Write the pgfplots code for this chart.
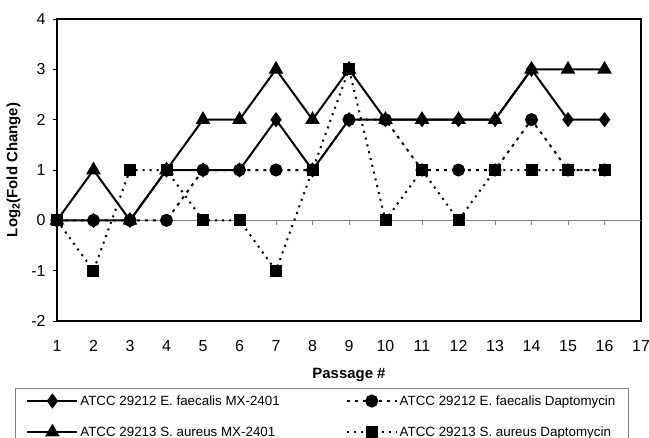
\documentclass[border=0pt]{standalone}
\usepackage{pgfplots}
\pgfplotsset{compat=1.18}
\usepackage{fontspec}
\setmainfont{Liberation Sans}
\begin{document}
\begin{tikzpicture}[x=1bp,y=1bp]
\begin{axis}[
  scale only axis,
  width=584bp, height=302bp,
  xmin=1, xmax=17, ymin=-2, ymax=4,
  xtick={1,...,17}, ytick={-2,...,4},
  /pgf/number format/assume math mode=true,
  ticklabel style={font=\fontsize{16}{18}\selectfont},
  x tick style={draw=none},
  y tick style={black, line width=0.8bp},
  ytick pos=left, tick align=outside,
  major tick length=4bp,
  xtick pos=bottom,
  xticklabel style={yshift=-12bp},
  yticklabel style={xshift=-4bp},
  axis line style={line width=1.2bp},
  xlabel={\bfseries Passage \#},
  ylabel={\bfseries Log\textsubscript{2}(Fold Change)},
  label style={font=\fontsize{15}{17}\selectfont\bfseries},
  xlabel style={yshift=-10bp},
  ylabel style={yshift=4bp},
  legend columns=2,
  legend cell align=left,
  legend style={at={(-0.0719,-0.222)}, anchor=north west, draw=gray, line width=0.8bp,
    font=\fontsize{13.4}{15}\selectfont, inner xsep=11bp, inner ysep=5bp,
    row sep=16bp,
    /tikz/every even column/.append style={column sep=64bp}},
  legend image code/.code={\draw[mark repeat=2,mark phase=2,#1] plot coordinates {(0bp,0bp) (25bp,0bp) (50bp,0bp)};},
  every axis plot/.append style={line width=2bp, black},
]
\draw[gray, line width=0.7bp] (axis cs:1,0) -- (axis cs:17,0);
\pgfplotsinvokeforeach{2,...,16}{\draw[gray, line width=0.7bp] (axis cs:#1,0) -- ([yshift=-5bp]axis cs:#1,0);}
\draw[black, line width=2.4bp] (axis cs:1,4) -- (axis cs:1,-2) -- (axis cs:17,-2);

\addplot[mark=diamond*, mark size=6bp, mark options={solid}] coordinates {
(1,0) (2,0) (3,0) (4,1) (5,1) (6,1) (7,2) (8,1) (9,2) (10,2) (11,2) (12,2) (13,2) (14,3) (15,2) (16,2)};
\addlegendentry{ATCC 29212 E. faecalis MX-2401}

\addplot[dash pattern=on 3bp off 5bp, mark=*, mark size=5.5bp, mark options={solid}] coordinates {
(1,0) (2,0) (3,0) (4,0) (5,1) (6,1) (7,1) (8,1) (9,2) (10,2) (11,1) (12,1) (13,1) (14,2) (15,1) (16,1)};
\addlegendentry{ATCC 29212 E. faecalis Daptomycin}

\addplot[mark=triangle*, mark size=6.5bp, mark options={solid}] coordinates {
(1,0) (2,1) (3,0) (4,1) (5,2) (6,2) (7,3) (8,2) (9,3) (10,2) (11,2) (12,2) (13,2) (14,3) (15,3) (16,3)};
\addlegendentry{ATCC 29213 S. aureus MX-2401}

\addplot[dash pattern=on 2bp off 5bp, mark=square*, mark size=5bp, mark options={solid}] coordinates {
(1,0) (2,-1) (3,1) (4,1) (5,0) (6,0) (7,-1) (8,1) (9,3) (10,0) (11,1) (12,0) (13,1) (14,1) (15,1) (16,1)};
\addlegendentry{ATCC 29213 S. aureus Daptomycin}
\end{axis}
\pgfresetboundingbox
\path ([shift={(-57bp,-117bp)}]current axis.south west) rectangle ([shift={(592bp,321bp)}]current axis.south west);
\end{tikzpicture}
\end{document}
